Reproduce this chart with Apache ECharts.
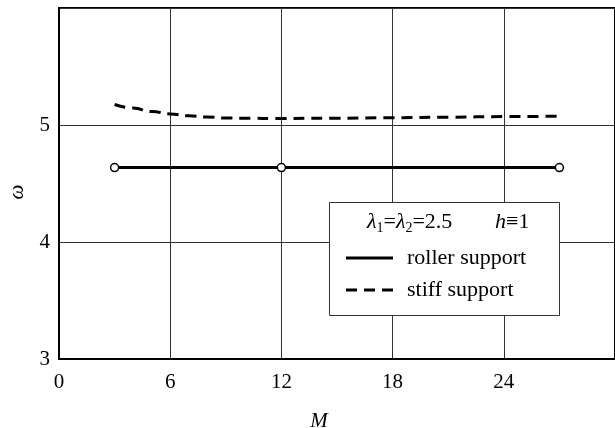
<!DOCTYPE html>
<html>
<head>
<meta charset="utf-8">
<script src="https://cdn.jsdelivr.net/npm/echarts@6/dist/echarts.min.js"></script>
<style>html,body{margin:0;padding:0;background:#fff}#c{width:615px;height:428px}</style>
</head>
<body>
<div id="c"></div>
<script>
// ---- data ----
var rollerM = [3, 12, 27];
var rollerOmega = [4.636, 4.636, 4.636];
var stiffM = [3, 4, 5, 6, 7, 8, 9, 10, 12, 15, 18, 21, 24, 27];
var stiffOmega = [5.175, 5.145, 5.115, 5.095, 5.078, 5.068, 5.06, 5.057, 5.056, 5.058, 5.062, 5.067, 5.072, 5.075];
var seriesNames = ['roller support', 'stiff support'];
var xAxisName = 'M';
var yAxisName = 'ω';
var legendTitleLeft = '{i|λ}{s|1}{n|=}{i|λ}{s|2}{n|=2.5}';
var legendTitleRight = '{i|h}{n|≡1}';

var SERIF = '"Liberation Serif", "DejaVu Serif", serif';

function pairs(xs, ys) { return xs.map(function (x, i) { return [x, ys[i]]; }); }

var richTitle = {
  i: { fontFamily: SERIF, fontSize: 22, fontStyle: 'italic', lineHeight: 26, fill: '#000', color: '#000' },
  n: { fontFamily: SERIF, fontSize: 22, lineHeight: 26, fill: '#000', color: '#000' },
  s: { fontFamily: SERIF, fontSize: 14, lineHeight: 14, verticalAlign: 'bottom', fill: '#000', color: '#000' }
};

var chart = echarts.init(document.getElementById('c'), null, { renderer: 'canvas' });
chart.setOption({
  animation: false,
  backgroundColor: '#fff',
  grid: { left: 59, top: 8, width: 565, height: 351, show: true, borderColor: '#000', borderWidth: 2, backgroundColor: 'transparent' },
  xAxis: {
    type: 'value', min: 0, max: 30, interval: 6,
    axisLine: { show: true, lineStyle: { color: '#000', width: 2 } },
    axisTick: { show: false },
    axisLabel: { color: '#000', fontFamily: SERIF, fontSize: 21, margin: 13, showMaxLabel: false },
    splitLine: { show: true, lineStyle: { color: '#333', width: 1 } }
  },
  yAxis: {
    type: 'value', min: 3, max: 6, interval: 1,
    axisLine: { show: true, lineStyle: { color: '#000', width: 2 } },
    axisTick: { show: false },
    axisLabel: { color: '#000', fontFamily: SERIF, fontSize: 21, margin: 9, showMaxLabel: false },
    splitLine: { show: true, lineStyle: { color: '#333', width: 1 } }
  },
  legend: {
    show: true, orient: 'vertical', left: 346, top: 247, padding: 0,
    itemWidth: 47, itemHeight: 3, itemGap: 10, z: 20,
    textStyle: { color: '#000', fontFamily: SERIF, fontSize: 22, lineHeight: 22, padding: [0, 0, 0, 9] },
    data: [
      { name: seriesNames[0], icon: 'path://M0,0H47V3H0Z', itemStyle: { color: '#000', borderWidth: 0 } },
      { name: seriesNames[1], icon: 'path://M0,0H11V3H0Z M18,0H29V3H18Z M36,0H47V3H36Z', itemStyle: { color: '#000', borderWidth: 0 } }
    ]
  },
  graphic: [
    { type: 'rect', z: 15, shape: { x: 329.5, y: 202.5, width: 230, height: 113 }, style: { fill: '#fff', stroke: '#333', lineWidth: 1 } },
    { type: 'text', z: 20, x: 367, y: 222, style: { text: legendTitleLeft, rich: richTitle, textAlign: 'left', textVerticalAlign: 'middle', fill: '#000' } },
    { type: 'text', z: 20, x: 495, y: 222, style: { text: legendTitleRight, rich: richTitle, textAlign: 'left', textVerticalAlign: 'middle', fill: '#000' } },
    { type: 'text', z: 20, x: 319, y: 421, style: { text: xAxisName, font: 'italic 21px ' + SERIF, textAlign: 'center', textVerticalAlign: 'middle', fill: '#000' } },
    { type: 'text', z: 20, x: 17, y: 192, rotation: Math.PI / 2, style: { text: yAxisName, font: 'italic 21px ' + SERIF, textAlign: 'center', textVerticalAlign: 'middle', fill: '#000' } }
  ],
  series: [
    {
      name: seriesNames[0], type: 'line', data: pairs(rollerM, rollerOmega),
      symbol: 'circle', symbolSize: 8, z: 5,
      lineStyle: { color: '#000', width: 3 },
      itemStyle: { color: '#fff', borderColor: '#000', borderWidth: 1.5 }
    },
    {
      name: seriesNames[1], type: 'line', data: pairs(stiffM, stiffOmega),
      symbol: 'none', smooth: true, smoothMonotone: 'x', z: 5,
      lineStyle: { color: '#000', width: 3, type: [11, 7] },
      itemStyle: { color: '#000' }
    }
  ]
});
</script>
</body>
</html>
